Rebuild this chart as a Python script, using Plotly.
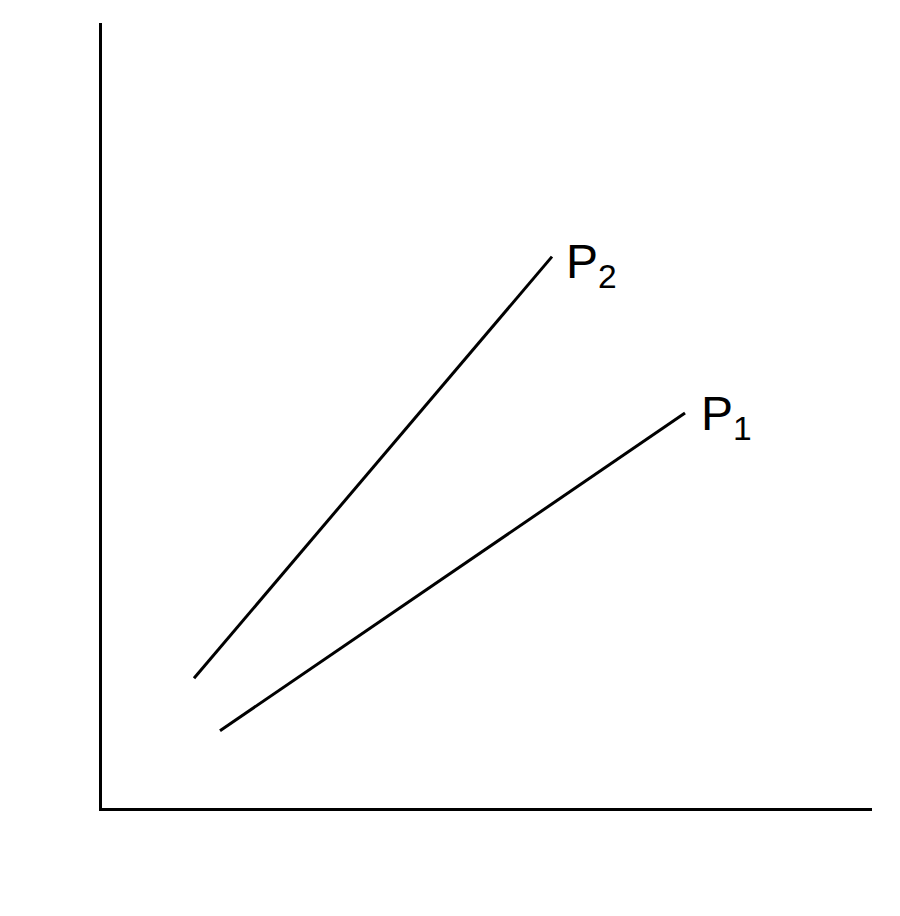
import plotly.graph_objects as go

# endpoints (arbitrary units, origin at axis corner)
p2_t = [92, 450]
p2_v = [131, 557]
p1_t = [118, 583]
p1_v = [78, 399]
labels = ["P<sub>2</sub>", "P<sub>1</sub>"]

fig = go.Figure()
fig.add_trace(go.Scatter(x=p2_t, y=p2_v, mode="lines", line=dict(color="black", width=3)))
fig.add_trace(go.Scatter(x=p1_t, y=p1_v, mode="lines", line=dict(color="black", width=3)))

font = dict(family="Liberation Sans, Arial", size=48, color="black")
fig.add_annotation(x=p2_t[1], y=p2_v[1], text=labels[0], showarrow=False,
                   xanchor="left", yanchor="middle", xshift=12, yshift=-8, font=font)
fig.add_annotation(x=p1_t[1], y=p1_v[1], text=labels[1], showarrow=False,
                   xanchor="left", yanchor="middle", xshift=14, yshift=-4, font=font)
fig.add_annotation(x=-30, y=0, text="O", showarrow=False, xanchor="center", yanchor="middle",
                   yshift=4, font=font)
# axis titles with long arrows
fig.add_annotation(x=224, y=-50, text="Temperature (T)", showarrow=False, font=font)
fig.add_annotation(x=638, y=-50, ax=478, ay=-50, axref="x", ayref="y", text="",
                   showarrow=True, arrowhead=2, arrowwidth=2.5, arrowsize=1.2)
fig.add_annotation(x=-58, y=338, text="Volume (V)", showarrow=False, textangle=-90, font=font)
fig.add_annotation(x=-58, y=690, ax=-58, ay=530, axref="x", ayref="y", text="",
                   showarrow=True, arrowhead=2, arrowwidth=2.5, arrowsize=1.2)

fig.update_xaxes(range=[0, 770], showgrid=False, zeroline=False, showticklabels=False,
                 showline=True, linecolor="black", linewidth=3)
fig.update_yaxes(range=[0, 793], showgrid=False, zeroline=False, showticklabels=False,
                 showline=True, linecolor="black", linewidth=3)
fig.update_layout(width=900, height=916, margin=dict(l=94, r=36, t=15, b=116, pad=0),
                  plot_bgcolor="white", paper_bgcolor="white", showlegend=False)
fig.write_html("out.html")
